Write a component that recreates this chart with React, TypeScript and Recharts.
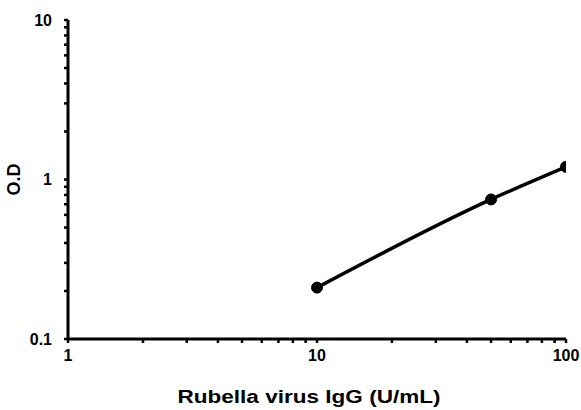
import React from 'react';
import { LineChart, Line, XAxis, YAxis, Label } from 'recharts';

const concentrations = [10, 50, 100];
const odValues = [0.21, 0.75, 1.2];
const xTicks = [1, 2, 3, 4, 5, 6, 7, 8, 9, 10, 20, 30, 40, 50, 60, 70, 80, 90, 100];
const yTicks = [0.1, 0.2, 0.3, 0.4, 0.5, 0.6, 0.7, 0.8, 0.9, 1, 2, 3, 4, 5, 6, 7, 8, 9, 10];
const xMajor = [1, 10, 100];
const yMajor = [0.1, 1, 10];
const xTitle = 'Rubella virus IgG (U/mL)';
const yTitle = 'O.D';

const data = concentrations.map((c, i) => ({ x: c, y: odValues[i] }));

const isMajor = (v: number, majors: number[]) => majors.some((m) => Math.abs(m - v) < 1e-9);

const FONT = 'Liberation Sans, Arial, sans-serif';

export default function App() {
  const font = { fontFamily: FONT, fontWeight: 700 };
  return (
    <div style={{ position: 'absolute', left: 0, top: 0 }}>
      <LineChart width={581} height={410} data={data} margin={{ top: 20, right: 15, bottom: 0, left: 0 }}>
        <XAxis
          dataKey="x"
          type="number"
          scale="log"
          domain={[1, 100]}
          ticks={xTicks}
          interval={0}
          allowDataOverflow
          height={71}
          stroke="#000"
          strokeWidth={3}
          tickSize={4}
          tickLine={{ stroke: '#000', strokeWidth: 2.5 }}
          tick={{ fill: '#000', fontSize: 16, ...font }}
          tickFormatter={(v: number) => (isMajor(v, xMajor) ? String(v) : '')}
          tickMargin={7}
        >
          <Label
            content={(props: any) => {
              const vb = props.viewBox || {};
              const cx = (vb.x ?? 68) + (vb.width ?? 498) / 2 - 8;
              return (
                <text
                  x={cx}
                  y={403}
                  textAnchor="middle"
                  textLength={263}
                  lengthAdjust="spacingAndGlyphs"
                  style={{ fill: '#000', fontSize: 18, fontFamily: FONT, fontWeight: 700 }}
                >
                  {xTitle}
                </text>
              );
            }}
          />
        </XAxis>
        <YAxis
          type="number"
          scale="log"
          domain={[0.1, 10]}
          ticks={yTicks}
          interval={0}
          allowDataOverflow
          width={68}
          stroke="#000"
          strokeWidth={3}
          tickSize={4}
          tickLine={{ stroke: '#000', strokeWidth: 2.5 }}
          tick={{ fill: '#000', fontSize: 16, ...font }}
          tickFormatter={(v: number) => (isMajor(v, yMajor) ? String(v) : '')}
          tickMargin={12}
        >
          <Label value={yTitle} angle={-90} position="insideLeft" offset={14} style={{ fill: '#000', fontSize: 18, textAnchor: 'middle', ...font }} />
        </YAxis>
        <Line
          dataKey="y"
          type="monotone"
          stroke="#000"
          strokeWidth={3.5}
          dot={{ r: 5.5, fill: '#000', stroke: '#000', strokeWidth: 1 }}
          isAnimationActive={false}
        />
      </LineChart>
    </div>
  );
}
